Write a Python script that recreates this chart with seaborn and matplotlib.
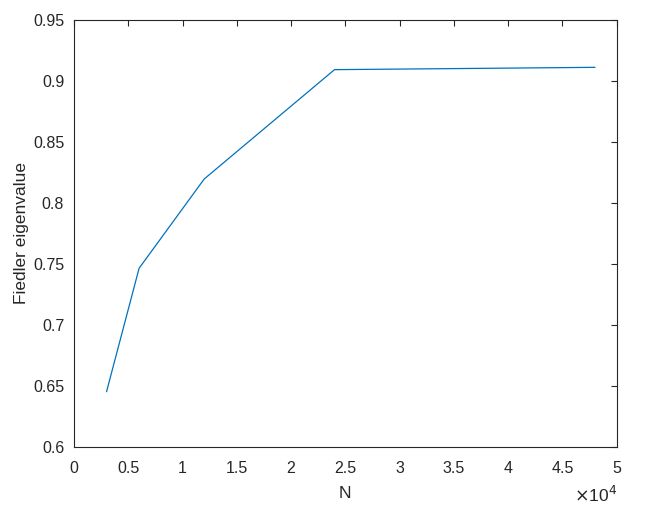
import numpy as np
import pandas as pd
import matplotlib
matplotlib.use("Agg")
import matplotlib.pyplot as plt
import seaborn as sns

# data
n_values = [3000, 6000, 12000, 24000, 48000]
fiedler = [0.6453, 0.7465, 0.8197, 0.9093, 0.9112]

x_ticks = [0, 5000, 10000, 15000, 20000, 25000, 30000, 35000, 40000, 45000, 50000]
x_tick_labels = ["0", "0.5", "1", "1.5", "2", "2.5", "3", "3.5", "4", "4.5", "5"]
y_ticks = [0.6, 0.65, 0.7, 0.75, 0.8, 0.85, 0.9, 0.95]
y_tick_labels = ["0.6", "0.65", "0.7", "0.75", "0.8", "0.85", "0.9", "0.95"]

sns.set_style("white")
plt.rcParams['font.family'] = ['Liberation Sans', 'DejaVu Sans']

df = pd.DataFrame({"N": n_values, "Fiedler eigenvalue": fiedler})

fig = plt.figure(figsize=(6.5, 5.25), dpi=100)
ax = fig.add_axes([0.1138, 0.1486, 0.835, 0.8133])
sns.lineplot(data=df, x="N", y="Fiedler eigenvalue", ax=ax, color="#0072BD", linewidth=0.9)

ax.set_xlim(0, 50000)
ax.set_ylim(0.6, 0.95)
ax.set_xticks(x_ticks)
ax.set_xticklabels(x_tick_labels)
ax.set_yticks(y_ticks)
ax.set_yticklabels(y_tick_labels)

dark = "#262626"
for sp in ax.spines.values():
    sp.set_visible(True)
    sp.set_color(dark)
    sp.set_linewidth(0.8)
ax.tick_params(direction="in", length=4, width=0.8, colors=dark, labelsize=11.5,
               top=True, right=True)
ax.tick_params(axis="x", pad=10)
ax.tick_params(axis="y", pad=7)
ax.set_xlabel("N", fontsize=12.5, color=dark, labelpad=7)
ax.set_ylabel("Fiedler eigenvalue", fontsize=12.5, color=dark, labelpad=3)

ax.text(1.0, -0.113, r"$\times$10$^{4}$", transform=ax.transAxes, ha="right", va="center",
        fontsize=12.5, color=dark)

fig.savefig("out.png", dpi=100)
